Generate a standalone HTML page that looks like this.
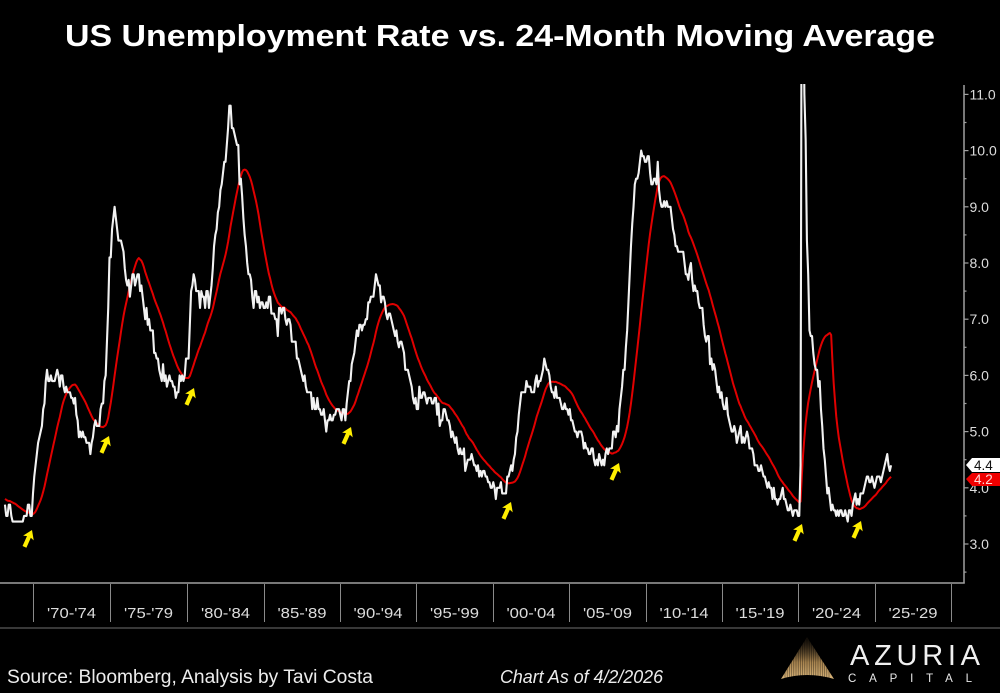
<!DOCTYPE html>
<html>
<head>
<meta charset="utf-8">
<style>
  html,body{margin:0;padding:0;background:#000;}
  body{width:1000px;height:693px;overflow:hidden;}
  svg{display:block;}
  text{font-family:"Liberation Sans",sans-serif;}
</style>
</head>
<body>
<svg id="c" width="1000" height="693" viewBox="0 0 1000 693" xmlns="http://www.w3.org/2000/svg">
  <defs>
    <clipPath id="plot"><rect x="0" y="84" width="964" height="499"/></clipPath>
    <linearGradient id="gold" x1="0" y1="0" x2="0" y2="1">
      <stop offset="0" stop-color="#2a2014" stop-opacity="0.3"/>
      <stop offset="0.6" stop-color="#a8844f"/>
      <stop offset="1" stop-color="#d8b47a"/>
    </linearGradient>
  </defs>
  <rect width="1000" height="693" fill="#000"/>

  <text x="65" y="46" font-size="31" font-weight="bold" fill="#ffffff" textLength="870" lengthAdjust="spacingAndGlyphs">US Unemployment Rate vs. 24-Month Moving Average</text>

  <g clip-path="url(#plot)">
    <path id="ma" d="" fill="none" stroke="#e00000" stroke-width="2" stroke-linejoin="round"/>
    <path id="ur" d="" fill="none" stroke="#f2f2f2" stroke-width="2.1" stroke-linejoin="round"/>
  </g>

  <line x1="964" y1="85" x2="964" y2="583.5" stroke="#a0a0a0" stroke-width="1.5"/>
  <line x1="0" y1="583" x2="964.7" y2="583" stroke="#a0a0a0" stroke-width="1.5"/>
  <g id="yticks" stroke="#a0a0a0" stroke-width="1.2"></g>
  <g id="ylabels" font-size="14" fill="#dcdcdc"></g>

  <line x1="0" y1="628" x2="1000" y2="628" stroke="#4a4a4a" stroke-width="1.5"/>
  <g id="xsep" stroke="#8a8a8a" stroke-width="1"></g>
  <g id="xlabels" font-size="15" fill="#dcdcdc"></g>

  <g id="arrows" fill="#ffee00"></g>

  <polygon points="966,465 972,458 1000,458 1000,472 972,472" fill="#ffffff"/>
  <text x="974" y="470" font-size="13.5" fill="#111">4.4</text>
  <polygon points="966,479 972,473 1000,473 1000,486 972,486" fill="#f00000"/>
  <text x="974" y="484" font-size="13.5" fill="#ffd6d6">4.2</text>

  <text x="7" y="683" font-size="19" fill="#ececec" textLength="366" lengthAdjust="spacingAndGlyphs">Source: Bloomberg, Analysis by Tavi Costa</text>
  <text x="500" y="683" font-size="18" font-style="italic" fill="#ececec" textLength="163" lengthAdjust="spacingAndGlyphs">Chart As of 4/2/2026</text>

  <path d="M807,637 L781,679 Q807,671 834,679 Z" fill="url(#gold)"/>
  <g id="logolines" stroke="#000" stroke-width="0.6" opacity="0.55"></g>
  <text x="850" y="665" font-family="Liberation Serif, serif" font-size="29" fill="#f0f0f0" textLength="130" lengthAdjust="spacing">AZURIA</text>
  <text x="848" y="682" font-size="11.5" fill="#e8e8e8" textLength="124" lengthAdjust="spacing">CAPITAL</text>
</svg>

<script>
(function(){
var yrs = [
[4.0,3.8,3.8,3.8,3.9,3.8,3.8,3.8,3.7,3.7,3.6,3.8],
[3.9,3.8,3.8,3.8,3.8,3.9,3.8,3.8,3.8,4.0,3.9,3.8],
[3.7,3.8,3.7,3.5,3.5,3.7,3.7,3.5,3.4,3.4,3.4,3.4],
[3.4,3.4,3.4,3.4,3.4,3.5,3.5,3.5,3.7,3.7,3.5,3.5],
[3.9,4.2,4.4,4.6,4.8,4.9,5.0,5.1,5.4,5.5,5.9,6.1],
[5.9,5.9,6.0,5.9,5.9,5.9,6.0,6.1,6.0,5.8,6.0,6.0],
[5.8,5.7,5.8,5.7,5.7,5.7,5.6,5.6,5.5,5.6,5.3,5.2],
[4.9,5.0,4.9,5.0,4.9,4.9,4.8,4.8,4.8,4.6,4.8,4.9],
[5.1,5.2,5.1,5.1,5.1,5.4,5.5,5.5,5.9,6.0,6.6,7.2],
[8.1,8.1,8.6,8.8,9.0,8.8,8.6,8.4,8.4,8.4,8.3,8.2],
[7.9,7.7,7.6,7.7,7.4,7.6,7.8,7.8,7.6,7.7,7.8,7.8],
[7.5,7.6,7.4,7.2,7.0,7.2,6.9,7.0,6.8,6.8,6.8,6.4],
[6.4,6.3,6.3,6.1,6.0,5.9,6.2,5.9,6.0,5.8,5.9,6.0],
[5.9,5.9,5.8,5.8,5.6,5.7,5.7,6.0,5.9,6.0,5.9,6.0],
[6.3,6.3,6.3,6.9,7.5,7.6,7.8,7.7,7.5,7.5,7.5,7.2],
[7.5,7.4,7.4,7.2,7.5,7.5,7.2,7.4,7.6,7.9,8.3,8.5],
[8.6,8.9,9.0,9.3,9.4,9.6,9.8,9.8,10.1,10.4,10.8,10.8],
[10.4,10.4,10.3,10.2,10.1,10.1,9.4,9.5,9.2,8.8,8.5,8.3],
[8.0,7.8,7.8,7.7,7.4,7.2,7.5,7.5,7.3,7.4,7.2,7.3],
[7.3,7.2,7.2,7.3,7.2,7.4,7.4,7.1,7.1,7.1,7.0,7.0],
[6.7,7.2,7.2,7.1,7.2,7.2,7.0,6.9,7.0,7.0,6.9,6.6],
[6.6,6.6,6.6,6.3,6.3,6.2,6.1,6.0,5.9,6.0,5.8,5.7],
[5.7,5.7,5.7,5.4,5.6,5.4,5.4,5.6,5.4,5.4,5.3,5.3],
[5.4,5.2,5.0,5.2,5.2,5.3,5.2,5.2,5.3,5.3,5.4,5.4],
[5.4,5.3,5.2,5.4,5.4,5.2,5.5,5.7,5.9,5.9,6.2,6.3],
[6.4,6.6,6.8,6.7,6.9,6.9,6.8,6.9,6.9,7.0,7.0,7.3],
[7.3,7.4,7.4,7.4,7.6,7.8,7.7,7.6,7.6,7.3,7.4,7.4],
[7.3,7.1,7.0,7.1,7.1,7.0,6.9,6.8,6.7,6.8,6.6,6.5],
[6.6,6.6,6.5,6.4,6.1,6.1,6.1,6.0,5.9,5.8,5.6,5.5],
[5.6,5.4,5.4,5.8,5.6,5.6,5.7,5.7,5.6,5.5,5.6,5.6],
[5.6,5.5,5.5,5.6,5.6,5.3,5.5,5.1,5.2,5.2,5.4,5.4],
[5.3,5.2,5.2,5.1,4.9,5.0,4.9,4.8,4.9,4.7,4.6,4.7],
[4.6,4.6,4.7,4.3,4.4,4.5,4.5,4.5,4.6,4.5,4.4,4.4],
[4.3,4.4,4.2,4.3,4.2,4.3,4.3,4.2,4.2,4.1,4.1,4.0],
[4.0,4.1,4.0,3.8,4.0,4.0,4.0,4.1,3.9,3.9,3.9,3.9],
[4.2,4.2,4.3,4.4,4.3,4.5,4.6,4.9,5.0,5.3,5.5,5.7],
[5.7,5.7,5.7,5.9,5.8,5.8,5.8,5.7,5.7,5.7,5.9,6.0],
[5.8,5.9,5.9,6.0,6.1,6.3,6.2,6.1,6.1,6.0,5.8,5.7],
[5.7,5.6,5.8,5.6,5.6,5.6,5.5,5.4,5.4,5.5,5.4,5.4],
[5.3,5.4,5.2,5.2,5.1,5.0,5.0,4.9,5.0,5.0,5.0,4.9],
[4.7,4.8,4.7,4.7,4.6,4.6,4.7,4.7,4.5,4.4,4.5,4.4],
[4.6,4.5,4.4,4.5,4.4,4.6,4.7,4.6,4.7,4.7,4.7,5.0],
[5.0,4.9,5.1,5.0,5.4,5.6,5.8,6.1,6.1,6.5,6.8,7.3],
[7.8,8.3,8.7,9.0,9.4,9.5,9.5,9.6,9.8,10.0,9.9,9.9],
[9.8,9.8,9.9,9.9,9.6,9.4,9.4,9.5,9.5,9.4,9.8,9.3],
[9.1,9.0,9.0,9.1,9.0,9.1,9.0,9.0,9.0,8.8,8.6,8.5],
[8.3,8.3,8.2,8.2,8.2,8.2,8.2,8.0,7.8,7.8,7.7,7.9],
[8.0,7.7,7.5,7.6,7.5,7.5,7.3,7.2,7.2,7.2,6.9,6.7],
[6.6,6.7,6.7,6.2,6.3,6.1,6.2,6.1,5.9,5.7,5.8,5.6],
[5.7,5.5,5.4,5.4,5.6,5.3,5.2,5.1,5.0,5.0,5.1,5.0],
[4.8,4.9,5.0,5.1,4.8,4.9,4.8,4.9,5.0,4.9,4.7,4.7],
[4.7,4.6,4.4,4.4,4.4,4.3,4.3,4.4,4.3,4.2,4.2,4.1],
[4.0,4.1,4.0,4.0,3.8,4.0,3.8,3.8,3.7,3.8,3.8,3.9],
[4.0,3.8,3.8,3.7,3.6,3.6,3.7,3.6,3.5,3.6,3.6,3.6],
[3.5,3.5,4.4,14.8,13.2,11.0,10.2,8.4,7.8,6.8,6.7,6.7],
[6.4,6.2,6.1,6.1,5.8,5.9,5.4,5.1,4.7,4.5,4.2,3.9],
[4.0,3.8,3.6,3.7,3.6,3.6,3.5,3.6,3.5,3.6,3.6,3.5],
[3.5,3.6,3.5,3.4,3.6,3.6,3.5,3.7,3.8,3.9,3.7,3.8],
[3.7,3.9,3.9,3.9,4.0,4.1,4.2,4.2,4.1,4.1,4.2,4.1],
[4.0,4.1,4.2,4.2,4.2,4.1,4.2,4.3,4.4,4.5,4.6,4.4],
[4.3,4.4]
];
var d=[]; yrs.forEach(function(a){a.forEach(function(v){d.push(v);});});
function X(t){return 33+(t-1970)*15.3;}
function Y(v){return 544-(v-3)*56.2;}
var start=26;
var p1="",p2="";
for(var i=start;i<d.length;i++){
  var t=1966+i/12;
  var x=X(t).toFixed(2);
  var s=0; for(var k=i-23;k<=i;k++) s+=d[k];
  var ma=s/24;
  p1+=(i==start?"M":"L")+x+","+Y(d[i]).toFixed(2);
  p2+=(i==start?"M":"L")+x+","+Y(ma).toFixed(2);
}
document.getElementById("ur").setAttribute("d",p1);
document.getElementById("ma").setAttribute("d",p2);

var NS="http://www.w3.org/2000/svg";
function el(n,attrs,parent,txt){var e=document.createElementNS(NS,n);for(var a in attrs)e.setAttribute(a,attrs[a]);if(txt!==undefined)e.textContent=txt;parent.appendChild(e);return e;}

var yt=document.getElementById("yticks"), yl=document.getElementById("ylabels");
for(var v=2.5;v<=11.01;v+=0.5){
  var y=Y(v);
  var major=Math.abs(v-Math.round(v))<0.01;
  el("line",{x1:964,y1:y,x2:major?968.5:966.5,y2:y},yt);
  if(major && v>=3){
    el("text",{x:969.5,y:(y+5).toFixed(1)},yl,v.toFixed(1));
  }
}

var seps=[33,110,187,264,340,416,493,569,646,722,798,875,951];
var labs=["'70-'74","'75-'79","'80-'84","'85-'89","'90-'94","'95-'99","'00-'04","'05-'09","'10-'14","'15-'19","'20-'24","'25-'29"];
var xs=document.getElementById("xsep"), xl=document.getElementById("xlabels");
seps.forEach(function(x){el("line",{x1:x+0.5,y1:584,x2:x+0.5,y2:622},xs);});
for(var j=0;j<labs.length;j++){
  var cx=(seps[j]+seps[j+1])/2;
  el("text",{x:(cx-24.5).toFixed(1),y:618,textLength:49,lengthAdjust:"spacingAndGlyphs"},xl,labs[j]);
}

var arrows=[[32,530],[109,436],[194,388],[351,427],[511,502],[619,463],[802,524],[861,521]];
var ag=document.getElementById("arrows");
arrows.forEach(function(a){
  el("polygon",{points:"0,0 5.8,8.8 2.1,7.6 2.1,18.5 -2.1,18.5 -2.1,7.6 -5.8,8.8",transform:"translate("+a[0]+","+a[1]+") rotate(24)"},ag);
});

var ll=document.getElementById("logolines");
for(var x=785;x<=831;x+=2.2){el("line",{x1:x,y1:639,x2:x,y2:680},ll);}
})();
</script>
</body>
</html>
